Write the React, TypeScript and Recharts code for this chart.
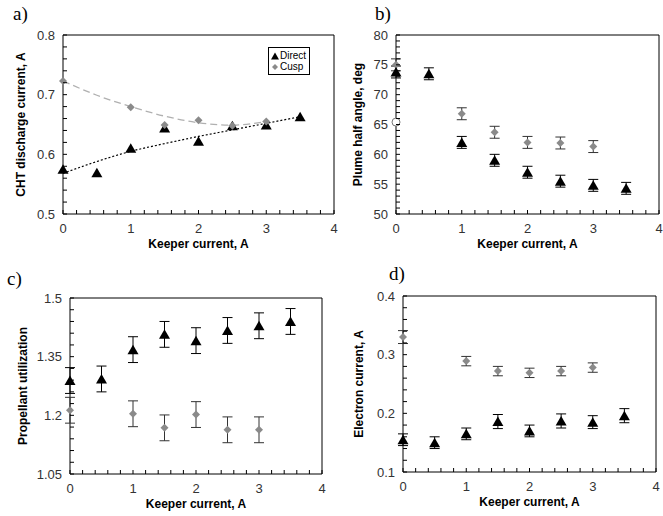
import React from "react";
import {
  ComposedChart,
  Scatter,
  Line,
  XAxis,
  YAxis,
  ErrorBar,
  ReferenceArea,
  Legend,
} from "recharts";

// keeper current values (A)
const keeper = [0, 0.5, 1, 1.5, 2, 2.5, 3, 3.5];
const keeperCusp = [0, 1, 1.5, 2, 2.5, 3];
const xMajor = [0, 1, 2, 3, 4];

// a) CHT discharge current
const aDirect = [0.575, 0.569, 0.61, 0.644, 0.622, 0.648, 0.649, 0.663];
const aCusp = [0.723, 0.679, 0.649, 0.657, 0.648, 0.655];
const aDirectFitX = [0, 0.5, 1, 1.5, 2, 2.5, 3, 3.5];
const aDirectFit = [0.568, 0.588, 0.605, 0.618, 0.63, 0.641, 0.652, 0.663];
const aCuspFitX = [0, 0.5, 1, 1.5, 2, 2.5, 3];
const aCuspFit = [0.723, 0.699, 0.68, 0.664, 0.653, 0.649, 0.655];
const aTicks = [0.5, 0.6, 0.7, 0.8];

// b) plume half angle
const bDirect = [73.8, 73.5, 62.0, 59.0, 57.0, 55.5, 54.8, 54.3];
const bDirectErr = [1, 1, 1, 1, 1, 1, 1, 1];
const bCusp = [75.0, 66.8, 63.7, 62.0, 61.9, 61.3];
const bCuspErr = [1, 1, 1, 1, 1, 1];
const bRefX = [0];
const bRef = [65.4];
const bTicks = [50, 55, 60, 65, 70, 75, 80];

// c) propellant utilization
const cDirect = [1.289, 1.293, 1.368, 1.407, 1.391, 1.417, 1.429, 1.44];
const cDirectErr = [0.033, 0.033, 0.033, 0.033, 0.033, 0.033, 0.033, 0.033];
const cCusp = [1.213, 1.204, 1.168, 1.202, 1.163, 1.163];
const cCuspErr = [0.033, 0.033, 0.033, 0.033, 0.033, 0.033];
const cTicks = [1.05, 1.2, 1.35, 1.5];

// d) electron current
const dDirect = [0.155, 0.15, 0.165, 0.186, 0.17, 0.187, 0.185, 0.196];
const dDirectErr = [0.01, 0.01, 0.01, 0.012, 0.01, 0.012, 0.011, 0.012];
const dCusp = [0.33, 0.289, 0.272, 0.269, 0.272, 0.278];
const dCuspErr = [0.011, 0.008, 0.008, 0.008, 0.008, 0.008];
const dTicks = [0.1, 0.2, 0.3, 0.4];

const seriesNames = ["Direct", "Cusp"];

const SANS = "'Liberation Sans', Arial, sans-serif";
const CUSP = "#8a8a8a";

const pts = (xs: number[], ys: number[], errs?: number[]) =>
  xs.map((x, i) => ({ x, y: ys[i], err: errs ? errs[i] : 0 }));

const steps = (lo: number, hi: number, step: number) => {
  const out: number[] = [];
  for (let i = 0; lo + i * step <= hi + 1e-9; i++) out.push(+(lo + i * step).toFixed(4));
  return out;
};

const isMajor = (majors: number[], v: number) => majors.some((m) => Math.abs(m - v) < 1e-9);

function Triangle(props: any) {
  const { cx, cy } = props;
  if (cx == null || cy == null) return null;
  return <path d={`M${cx},${cy - 5} L${cx + 5.5},${cy + 4.5} L${cx - 5.5},${cy + 4.5} Z`} fill="#000" />;
}

function Diamond(props: any) {
  const { cx, cy } = props;
  if (cx == null || cy == null) return null;
  return <path d={`M${cx},${cy - 4} L${cx + 4},${cy} L${cx},${cy + 4} L${cx - 4},${cy} Z`} fill={CUSP} />;
}

function OpenCircle(props: any) {
  const { cx, cy } = props;
  if (cx == null || cy == null) return null;
  return <circle cx={cx} cy={cy} r={4} fill="#fff" stroke="#777" strokeWidth={1} />;
}

const yTick = (majors: number[]) => (props: any) => {
  const { x, y, payload } = props;
  return (
    <g>
      <line x1={x} x2={x + 4} y1={y} y2={y} stroke="#000" />
      {isMajor(majors, payload.value) && (
        <text x={x - 8} y={y + 4.5} textAnchor="end" fontSize={13} fill="#333" fontFamily={SANS}>
          {String(+payload.value.toFixed(2))}
        </text>
      )}
    </g>
  );
};

const xTick = (props: any) => {
  const { x, y, payload } = props;
  return (
    <g>
      <line x1={x} x2={x} y1={y} y2={y - 4} stroke="#000" />
      {isMajor(xMajor, payload.value) && (
        <text x={x} y={y + 19} textAnchor="middle" fontSize={13} fill="#333" fontFamily={SANS}>
          {String(payload.value)}
        </text>
      )}
    </g>
  );
};

const LegendBox = () => (
  <div
    style={{
      border: "1px solid #000",
      background: "#fff",
      width: 38,
      padding: "2px 0 2px 2px",
      fontFamily: SANS,
      fontSize: 10,
      lineHeight: "11px",
      color: "#000",
    }}
  >
    {seriesNames.map((n, i) => (
      <div key={n} style={{ display: "flex", alignItems: "center" }}>
        <svg width={8} height={8} style={{ marginRight: 1 }}>
          {i === 0 ? (
            <path d="M4,0.5 L8,7.5 L0,7.5 Z" fill="#000" />
          ) : (
            <path d="M4,1 L7,4 L4,7 L1,4 Z" fill={CUSP} />
          )}
        </svg>
        {n}
      </div>
    ))}
  </div>
);

function Panel(props: {
  left: number;
  top: number;
  width: number;
  height: number;
  margin: { top: number; right: number; bottom: number; left: number };
  yWidth: number;
  ticks: number[];
  minor: number;
  yLabel: string;
  yLabelDx: number;
  children: React.ReactNode;
}) {
  const { ticks } = props;
  const lo = ticks[0];
  const hi = ticks[ticks.length - 1];
  return (
    <div style={{ position: "absolute", left: props.left, top: props.top }}>
      <ComposedChart width={props.width} height={props.height} margin={props.margin}>
        <XAxis
          type="number"
          dataKey="x"
          domain={[0, 4]}
          ticks={steps(0, 4, 0.2)}
          interval={0}
          tickSize={0}
          tickMargin={0}
          axisLine={false}
          tickLine={false}
          tick={xTick}
          height={40}
          label={{
            value: "Keeper current, A",
            position: "insideTop",
            offset: 25,
            fontSize: 12,
            fontWeight: "bold",
            fill: "#000",
            fontFamily: SANS,
          }}
        />
        <YAxis
          type="number"
          dataKey="y"
          domain={[lo, hi]}
          ticks={steps(lo, hi, props.minor)}
          interval={0}
          tickSize={0}
          tickMargin={0}
          axisLine={false}
          tickLine={false}
          tick={yTick(ticks)}
          width={props.yWidth}
          label={{
            value: props.yLabel,
            angle: -90,
            position: "center",
            dx: props.yLabelDx,
            fontSize: 12,
            fontWeight: "bold",
            fill: "#000",
            fontFamily: SANS,
          }}
        />
        <ReferenceArea x1={0} x2={4} y1={lo} y2={hi} fill="none" stroke="#000" strokeWidth={1} ifOverflow="visible" />
        {props.children}
      </ComposedChart>
    </div>
  );
}

const panelLabel = (text: string, left: number, top: number) => (
  <div
    style={{
      position: "absolute",
      left,
      top,
      fontFamily: "'Liberation Serif', 'DejaVu Serif', serif",
      fontSize: 19,
      lineHeight: "19px",
      color: "#000",
    }}
  >
    {text}
  </div>
);

export default function App() {
  return (
    <div style={{ position: "absolute", left: 0, top: 0, width: 663, height: 516, background: "#fff", overflow: "hidden" }}>
      {panelLabel("a)", 13, 4)}
      {panelLabel("b)", 375, 4)}
      {panelLabel("c)", 7, 269)}
      {panelLabel("d)", 389, 264)}

      <Panel
        left={0}
        top={0}
        width={345}
        height={254}
        margin={{ top: 35, right: 11, bottom: 0, left: 0 }}
        yWidth={63}
        ticks={aTicks}
        minor={0.02}
        yLabel="CHT discharge current, A"
        yLabelDx={-11}
      >
        <Line
          data={pts(aCuspFitX, aCuspFit)}
          dataKey="y"
          type="monotone"
          stroke="#b0b0b0"
          strokeWidth={1.3}
          strokeDasharray="7 4"
          dot={false}
          activeDot={false}
          legendType="none"
          isAnimationActive={false}
        />
        <Line
          data={pts(aDirectFitX, aDirectFit)}
          dataKey="y"
          type="monotone"
          stroke="#000"
          strokeWidth={1.2}
          strokeDasharray="2 2"
          dot={false}
          activeDot={false}
          legendType="none"
          isAnimationActive={false}
        />
        <Scatter name="Direct" data={pts(keeper, aDirect)} shape={Triangle} isAnimationActive={false} />
        <Scatter name="Cusp" data={pts(keeperCusp, aCusp)} shape={Diamond} isAnimationActive={false} />
        <Legend
          layout="vertical"
          align="center"
          verticalAlign="middle"
          content={LegendBox}
          wrapperStyle={{ left: 268, top: 47, width: 42 }}
        />
      </Panel>

      <Panel
        left={330}
        top={0}
        width={333}
        height={254}
        margin={{ top: 35, right: 4, bottom: 0, left: 0 }}
        yWidth={66}
        ticks={bTicks}
        minor={1}
        yLabel="Plume half angle, deg"
        yLabelDx={-5}
      >
        <Scatter data={pts(keeperCusp, bCusp, bCuspErr)} shape={Diamond} isAnimationActive={false}>
          <ErrorBar dataKey="err" direction="y" width={5} stroke="#333" strokeWidth={1} isAnimationActive={false} />
        </Scatter>
        <Scatter data={pts(keeper, bDirect, bDirectErr)} shape={Triangle} isAnimationActive={false}>
          <ErrorBar dataKey="err" direction="y" width={5} stroke="#000" strokeWidth={1} isAnimationActive={false} />
        </Scatter>
        <Scatter data={pts(bRefX, bRef)} shape={OpenCircle} isAnimationActive={false} />
      </Panel>

      <Panel
        left={0}
        top={260}
        width={330}
        height={254}
        margin={{ top: 38, right: 8, bottom: 0, left: 0 }}
        yWidth={70}
        ticks={cTicks}
        minor={0.03}
        yLabel="Propellant utilization"
        yLabelDx={-12}
      >
        <Scatter data={pts(keeperCusp, cCusp, cCuspErr)} shape={Diamond} isAnimationActive={false}>
          <ErrorBar dataKey="err" direction="y" width={5} stroke="#333" strokeWidth={1} isAnimationActive={false} />
        </Scatter>
        <Scatter data={pts(keeper, cDirect, cDirectErr)} shape={Triangle} isAnimationActive={false}>
          <ErrorBar dataKey="err" direction="y" width={5} stroke="#000" strokeWidth={1} isAnimationActive={false} />
        </Scatter>
      </Panel>

      <Panel
        left={330}
        top={260}
        width={333}
        height={252}
        margin={{ top: 36, right: 7, bottom: 0, left: 0 }}
        yWidth={73}
        ticks={dTicks}
        minor={0.02}
        yLabel="Electron current, A"
        yLabelDx={-8}
      >
        <Scatter data={pts(keeperCusp, dCusp, dCuspErr)} shape={Diamond} isAnimationActive={false}>
          <ErrorBar dataKey="err" direction="y" width={5} stroke="#333" strokeWidth={1} isAnimationActive={false} />
        </Scatter>
        <Scatter data={pts(keeper, dDirect, dDirectErr)} shape={Triangle} isAnimationActive={false}>
          <ErrorBar dataKey="err" direction="y" width={5} stroke="#000" strokeWidth={1} isAnimationActive={false} />
        </Scatter>
      </Panel>
    </div>
  );
}
